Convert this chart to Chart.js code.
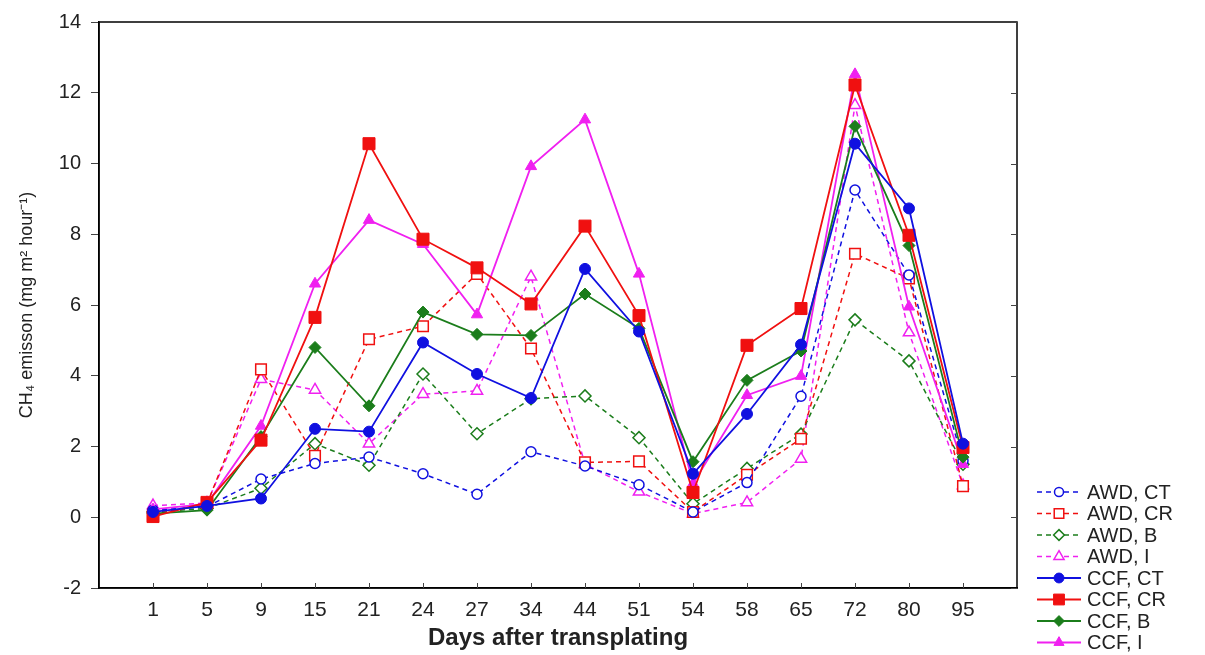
<!DOCTYPE html>
<html>
<head>
<meta charset="utf-8">
<title>CH4 emission</title>
<script src="https://cdn.jsdelivr.net/npm/chart.js@4.4.1/dist/chart.umd.min.js"></script>
<style>
    html, body { margin: 0; padding: 0; background: #fff; }
    #chart { display: block; }
</style>
</head>
<body>
<canvas id="chart" width="1205" height="655"></canvas>
<script>
const days = ['1', '5', '9', '15', '21', '24', '27', '34', '44', '51', '54', '58', '65', '72', '80', '95'];
const yTicks = [-2, 0, 2, 4, 6, 8, 10, 12, 14];

const awdCT = [0.2, 0.3, 1.08, 1.52, 1.7, 1.23, 0.65, 1.85, 1.45, 0.92, 0.15, 0.98, 3.42, 9.25, 6.85, 1.6];
const awdCR = [0.08, 0.38, 4.18, 1.74, 5.03, 5.4, 6.88, 4.77, 1.55, 1.58, 0.15, 1.2, 2.22, 7.45, 6.75, 0.88];
const awdB = [0.15, 0.25, 0.82, 2.08, 1.47, 4.05, 2.36, 3.35, 3.43, 2.25, 0.38, 1.38, 2.35, 5.58, 4.42, 1.5];
const awdI = [0.33, 0.4, 3.9, 3.6, 2.08, 3.48, 3.57, 6.8, 1.5, 0.72, 0.1, 0.42, 1.65, 11.65, 5.22, 0.9];
const ccfCT = [0.15, 0.32, 0.53, 2.5, 2.42, 4.94, 4.05, 3.37, 7.02, 5.25, 1.23, 2.92, 4.88, 10.56, 8.73, 2.08];
const ccfCR = [0.02, 0.42, 2.18, 5.65, 10.56, 7.86, 7.05, 6.03, 8.23, 5.7, 0.7, 4.86, 5.9, 12.22, 7.97, 1.97];
const ccfB = [0.1, 0.2, 2.28, 4.8, 3.15, 5.8, 5.17, 5.14, 6.31, 5.34, 1.57, 3.87, 4.7, 11.05, 7.68, 1.7];
const ccfI = [0.22, 0.38, 2.58, 6.6, 8.4, 7.72, 5.73, 9.92, 11.24, 6.88, 0.95, 3.45, 3.99, 12.52, 5.95, 1.5];

const blue = '#1010e0';
const red = '#f01010';
const green = '#1b7d1b';
const magenta = '#f020f0';

const FONT = "'Liberation Sans', Arial, sans-serif";

function toPoints(values) {
    return values.map((v, i) => ({ x: i + 1, y: v }));
}

function openSeries(label, values, color, style, radius) {
    return {
        label,
        data: toPoints(values),
        borderColor: color,
        backgroundColor: '#ffffff',
        borderWidth: 1.5,
        borderDash: [5, 4],
        pointStyle: style,
        pointRadius: radius,
        pointBorderColor: color,
        pointBackgroundColor: '#ffffff',
        pointBorderWidth: 1.5,
        tension: 0,
        order: 1
    };
}

function solidSeries(label, values, color, style, radius) {
    return {
        label,
        data: toPoints(values),
        borderColor: color,
        backgroundColor: color,
        borderWidth: 1.8,
        pointStyle: style,
        pointRadius: radius,
        pointBorderColor: color,
        pointBackgroundColor: color,
        pointBorderWidth: 1,
        tension: 0,
        order: 0
    };
}

const datasets = [
    openSeries('AWD, CT', awdCT, blue, 'circle', 5),
    openSeries('AWD, CR', awdCR, red, 'rect', 7.5),
    openSeries('AWD, B', awdB, green, 'rectRot', 6),
    openSeries('AWD, I', awdI, magenta, 'triangle', 6.5),
    solidSeries('CCF, CT', ccfCT, blue, 'circle', 5.5),
    solidSeries('CCF, CR', ccfCR, red, 'rect', 8.5),
    solidSeries('CCF, B', ccfB, green, 'rectRot', 6),
    solidSeries('CCF, I', ccfI, magenta, 'triangle', 6.5)
];

// frame box, inner ticks on right and bottom, and the legend at lower right
const framePlugin = {
    id: 'frame',
    afterDraw(chart) {
        const ctx = chart.ctx;
        const area = chart.chartArea;
        const xScale = chart.scales.x;
        const yScale = chart.scales.y;
        ctx.save();
        ctx.strokeStyle = '#000';
        ctx.lineWidth = 1.5;
        ctx.strokeRect(area.left, area.top, area.right - area.left, area.bottom - area.top);

        ctx.lineWidth = 1;
        ctx.strokeStyle = '#444';
        ctx.beginPath();
        yTicks.forEach(v => {
            const y = Math.round(yScale.getPixelForValue(v)) + 0.5;
            ctx.moveTo(area.right - 6, y);
            ctx.lineTo(area.right, y);
        });
        days.forEach((d, i) => {
            const x = Math.round(xScale.getPixelForValue(i + 1)) + 0.5;
            ctx.moveTo(x, area.bottom);
            ctx.lineTo(x, area.bottom - 5);
        });
        ctx.stroke();

        // legend
        const lx = 1037;
        const ly = 492;
        const rowH = 21.5;
        chart.data.datasets.forEach((ds, i) => {
            const y = ly + i * rowH;
            ctx.save();
            ctx.strokeStyle = ds.borderColor;
            ctx.lineWidth = ds.borderWidth;
            ctx.setLineDash(ds.borderDash || []);
            ctx.beginPath();
            ctx.moveTo(lx, y);
            ctx.lineTo(lx + 44, y);
            ctx.stroke();
            ctx.setLineDash([]);
            ctx.strokeStyle = ds.pointBorderColor;
            ctx.fillStyle = ds.pointBackgroundColor;
            ctx.lineWidth = ds.pointBorderWidth;
            Chart.helpers.drawPoint(ctx, {
                pointStyle: ds.pointStyle,
                rotation: 0,
                radius: ds.pointRadius * 0.9,
                borderWidth: ds.pointBorderWidth
            }, lx + 22, y);
            ctx.restore();
            ctx.fillStyle = '#222';
            ctx.font = '20px ' + FONT;
            ctx.textBaseline = 'middle';
            ctx.textAlign = 'left';
            ctx.fillText(ds.label, lx + 50, y + 1);
        });
        ctx.restore();
    }
};

new Chart(document.getElementById('chart').getContext('2d'), {
    type: 'line',
    data: { datasets },
    options: {
        responsive: false,
        animation: false,
        devicePixelRatio: 1,
        layout: {
            padding: { left: 0, top: 18, right: 188, bottom: 0 }
        },
        plugins: {
            legend: { display: false },
            tooltip: { enabled: false }
        },
        scales: {
            x: {
                type: 'linear',
                min: 0,
                max: 17,
                afterBuildTicks: (scale) => {
                    scale.ticks = days.map((d, i) => ({ value: i + 1 }));
                },
                afterFit: (scale) => { scale.height = 67; },
                grid: { display: false },
                border: { display: true, color: '#000', width: 1.5 },
                ticks: {
                    autoSkip: false,
                    maxRotation: 0,
                    padding: 2,
                    color: '#222',
                    font: { family: FONT, size: 21 },
                    callback: (v) => days[v - 1]
                },
                title: {
                    display: true,
                    text: 'Days after transplating',
                    color: '#222',
                    font: { family: FONT, size: 24, weight: 'bold' },
                    padding: { top: 0, bottom: 2 }
                }
            },
            y: {
                min: -2,
                max: 14,
                afterBuildTicks: (scale) => {
                    scale.ticks = yTicks.map(v => ({ value: v }));
                },
                afterFit: (scale) => { scale.width = 99; },
                grid: {
                    drawOnChartArea: false,
                    drawTicks: true,
                    tickLength: 8,
                    color: '#444'
                },
                border: { display: true, color: '#000', width: 1.5 },
                ticks: {
                    padding: 10,
                    color: '#222',
                    font: { family: FONT, size: 20 }
                },
                title: {
                    display: true,
                    text: 'CH₄ emisson (mg m² hour⁻¹)',
                    color: '#222',
                    font: { family: FONT, size: 18 },
                    padding: { top: 16, bottom: 0 }
                }
            }
        }
    },
    plugins: [framePlugin]
});
</script>
</body>
</html>
